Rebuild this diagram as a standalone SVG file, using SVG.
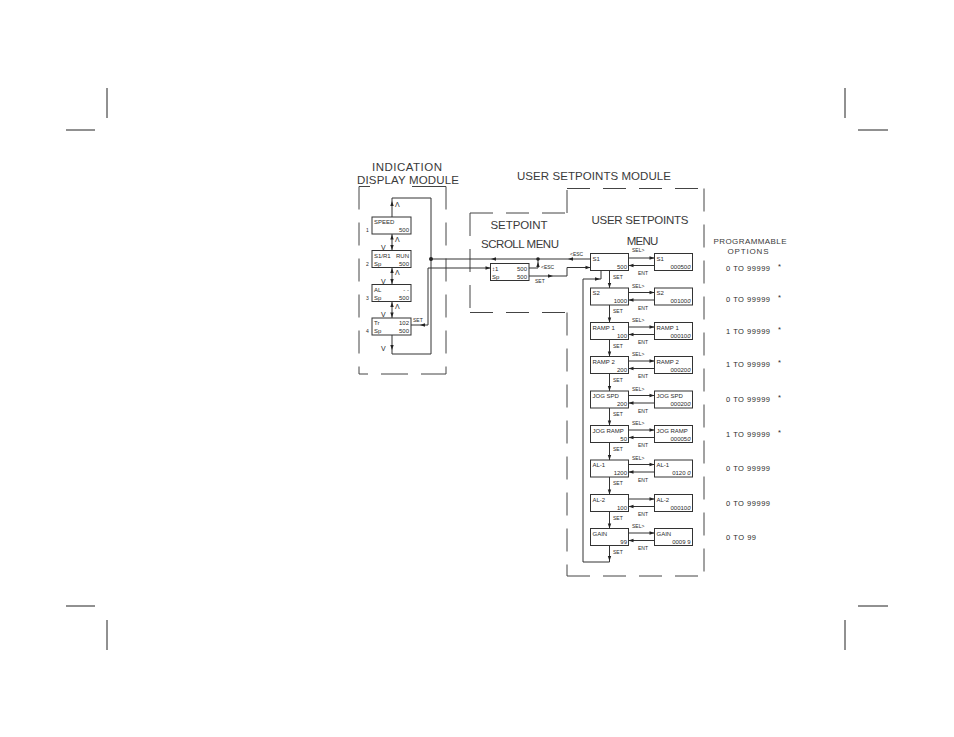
<svg xmlns="http://www.w3.org/2000/svg" width="954" height="737" viewBox="0 0 954 737">
<style>
.t{font-family:"Liberation Sans",Arial,sans-serif;fill:#2a2a2a}
.ttl{font-size:11.5px;fill:#3a3a3a}
.sm{font-size:6px}
.xs{font-size:5px}
.op{font-size:7.5px}
.ln{stroke:#333;stroke-width:1;fill:none}
.box{fill:#fff;stroke:#333;stroke-width:1}
.dash{stroke:#444;stroke-width:1;fill:none;stroke-dasharray:23 13}
.solid{stroke:#444;stroke-width:1;fill:none}
.crop{stroke:#222;stroke-width:1}
</style>
<defs>
<path id="ah" d="M0,0 L-5,-1.7 L-5,1.7 Z" fill="#222"/>
</defs>
<rect width="954" height="737" fill="#fff"/>

<g id="crop-marks">
<line class="crop" x1="107" y1="88" x2="107" y2="118"/>
<line class="crop" x1="66" y1="130" x2="95" y2="130"/>
<line class="crop" x1="845" y1="88" x2="845" y2="118"/>
<line class="crop" x1="858" y1="130" x2="888" y2="130"/>
<line class="crop" x1="66" y1="606" x2="95" y2="606"/>
<line class="crop" x1="107" y1="620" x2="107" y2="650"/>
<line class="crop" x1="858" y1="606" x2="888" y2="606"/>
<line class="crop" x1="845" y1="620" x2="845" y2="650"/>
</g>

<g id="module-outlines">
<path class="solid" d="M359,186.5 H370 M412,186.5 H446 M359,374 H368 M381,374 H408 M421,374 H446"/>
<path class="dash" d="M359,186.5 V374 M446,186.5 V374"/>
<path class="dash" d="M470,213 V312.5 M470,213 H567 M567,213 V188.5 M567,188.5 H704 M704,188.5 V576 M567,576 H704 M567,312.5 V576 M470,312.5 H567"/>
</g>

<g id="titles">
<text class="t ttl" x="407" y="171" text-anchor="middle" textLength="70" lengthAdjust="spacing">INDICATION</text>
<text class="t ttl" x="408" y="184" text-anchor="middle" textLength="102" lengthAdjust="spacing">DISPLAY MODULE</text>
<text class="t ttl" x="594" y="179.5" text-anchor="middle" textLength="154" lengthAdjust="spacing">USER SETPOINTS MODULE</text>
<text class="t ttl" x="519" y="228.5" text-anchor="middle" textLength="57" lengthAdjust="spacing">SETPOINT</text>
<text class="t ttl" x="520" y="247.5" text-anchor="middle" textLength="78" lengthAdjust="spacing">SCROLL MENU</text>
<text class="t ttl" x="640" y="224" text-anchor="middle" textLength="97" lengthAdjust="spacing">USER SETPOINTS</text>
<text class="t ttl" x="642.5" y="245" text-anchor="middle" textLength="31.5" lengthAdjust="spacing">MENU</text>
<text class="t" style="font-size:8px;fill:#3a3a3a" x="750" y="243.5" text-anchor="middle" textLength="73" lengthAdjust="spacing">PROGRAMMABLE</text>
<text class="t" style="font-size:8px;fill:#3a3a3a" x="748" y="253.5" text-anchor="middle" textLength="41" lengthAdjust="spacing">OPTIONS</text>
</g>

<g id="connectors">
<path class="ln" d="M392,217 V198 H431 V354 H392 V335"/>
<use href="#ah" transform="translate(392,201) rotate(-90)"/>
<use href="#ah" transform="translate(392,350) rotate(90)"/>
<path class="ln" d="M392,234 V250.5 M392,267.5 V284.5 M392,301.5 V318"/>
<use href="#ah" transform="translate(392,234.5) rotate(-90)"/>
<use href="#ah" transform="translate(392,250) rotate(90)"/>
<use href="#ah" transform="translate(392,268) rotate(-90)"/>
<use href="#ah" transform="translate(392,284) rotate(90)"/>
<use href="#ah" transform="translate(392,302) rotate(-90)"/>
<use href="#ah" transform="translate(392,317.5) rotate(90)"/>
<path class="ln" d="M411,325 H428 V268 H490.5"/>
<use href="#ah" transform="translate(420,325) rotate(180)"/>
<use href="#ah" transform="translate(490.5,268)"/>
<path class="ln" d="M431,259 H590.5"/>
<circle cx="431" cy="259" r="2" fill="#222"/>
<use href="#ah" transform="translate(491,259) rotate(180)"/>
<use href="#ah" transform="translate(568,259) rotate(180)"/>
<path class="ln" d="M529,268 H538 V259"/>
<circle cx="538" cy="259" r="1.8" fill="#222"/>
<use href="#ah" transform="translate(538,262) rotate(-90)"/>
<path class="ln" d="M529,276 H567 V267.5 H590.5"/>
<use href="#ah" transform="translate(553,276)"/>
<use href="#ah" transform="translate(590.5,267.5)"/>
<path class="ln" d="M628.5,258 H654.5 M654.5,265.5 H628.5 M628.5,292.5 H654.5 M654.5,300 H628.5 M628.5,327 H654.5 M654.5,334.5 H628.5 M628.5,361 H654.5 M654.5,368.5 H628.5 M628.5,395.5 H654.5 M654.5,403 H628.5 M628.5,430 H654.5 M654.5,437.5 H628.5 M628.5,464.5 H654.5 M654.5,472 H628.5 M628.5,499 H654.5 M654.5,506.5 H628.5 M628.5,533 H654.5 M654.5,540.5 H628.5"/>
<use href="#ah" transform="translate(654.5,258)"/>
<use href="#ah" transform="translate(628.5,265.5) rotate(180)"/>
<use href="#ah" transform="translate(654.5,292.5)"/>
<use href="#ah" transform="translate(628.5,300) rotate(180)"/>
<use href="#ah" transform="translate(654.5,327)"/>
<use href="#ah" transform="translate(628.5,334.5) rotate(180)"/>
<use href="#ah" transform="translate(654.5,361)"/>
<use href="#ah" transform="translate(628.5,368.5) rotate(180)"/>
<use href="#ah" transform="translate(654.5,395.5)"/>
<use href="#ah" transform="translate(628.5,403) rotate(180)"/>
<use href="#ah" transform="translate(654.5,430)"/>
<use href="#ah" transform="translate(628.5,437.5) rotate(180)"/>
<use href="#ah" transform="translate(654.5,464.5)"/>
<use href="#ah" transform="translate(628.5,472) rotate(180)"/>
<use href="#ah" transform="translate(654.5,499)"/>
<use href="#ah" transform="translate(628.5,506.5) rotate(180)"/>
<use href="#ah" transform="translate(654.5,533)"/>
<use href="#ah" transform="translate(628.5,540.5) rotate(180)"/>
<path class="ln" d="M609.5,270.5 V288 M609.5,305 V322.5 M609.5,339.5 V356.5 M609.5,373.5 V391 M609.5,408 V425.5 M609.5,442.5 V460 M609.5,477 V494.5 M609.5,511.5 V528.5"/>
<use href="#ah" transform="translate(609.5,288) rotate(90)"/>
<use href="#ah" transform="translate(609.5,322.5) rotate(90)"/>
<use href="#ah" transform="translate(609.5,356.5) rotate(90)"/>
<use href="#ah" transform="translate(609.5,391) rotate(90)"/>
<use href="#ah" transform="translate(609.5,425.5) rotate(90)"/>
<use href="#ah" transform="translate(609.5,460) rotate(90)"/>
<use href="#ah" transform="translate(609.5,494.5) rotate(90)"/>
<use href="#ah" transform="translate(609.5,528.5) rotate(90)"/>
<path class="ln" d="M609.5,545.5 V562 H583 V279 H601 V270.5"/>
<use href="#ah" transform="translate(609.5,561) rotate(90)"/>
<use href="#ah" transform="translate(600,279)"/>
</g>

<g id="connector-labels" class="t">
<text style="font-size:7px" x="395" y="207">Λ</text>
<text style="font-size:7px" x="395" y="241.5">Λ</text>
<text style="font-size:7px" x="395" y="275">Λ</text>
<text style="font-size:7px" x="395" y="309">Λ</text>
<text style="font-size:7px" x="381" y="249.5">V</text>
<text style="font-size:7px" x="381" y="283.5">V</text>
<text style="font-size:7px" x="381" y="317">V</text>
<text style="font-size:7px" x="381" y="351">V</text>
<text class="xs" x="413" y="322">SET</text>
<text class="xs" x="541" y="268.5">&lt;ESC</text>
<text class="xs" x="570" y="255.5">&lt;ESC</text>
<text class="xs" x="535" y="283">SET</text>
<text class="xs" x="632" y="252">SEL&gt;</text>
<text class="xs" x="632" y="287.5">SEL&gt;</text>
<text class="xs" x="632" y="322">SEL&gt;</text>
<text class="xs" x="632" y="356">SEL&gt;</text>
<text class="xs" x="632" y="390.5">SEL&gt;</text>
<text class="xs" x="632" y="425">SEL&gt;</text>
<text class="xs" x="632" y="459.5">SEL&gt;</text>
<text class="xs" x="632" y="528">SEL&gt;</text>
<text class="xs" x="638" y="275">ENT</text>
<text class="xs" x="638" y="309.5">ENT</text>
<text class="xs" x="638" y="344">ENT</text>
<text class="xs" x="638" y="378">ENT</text>
<text class="xs" x="638" y="412.5">ENT</text>
<text class="xs" x="638" y="447">ENT</text>
<text class="xs" x="638" y="481.5">ENT</text>
<text class="xs" x="638" y="516">ENT</text>
<text class="xs" x="638" y="550">ENT</text>
<text class="xs" x="613" y="278.5">SET</text>
<text class="xs" x="613" y="313">SET</text>
<text class="xs" x="613" y="347.5">SET</text>
<text class="xs" x="613" y="381.5">SET</text>
<text class="xs" x="613" y="416">SET</text>
<text class="xs" x="613" y="450.5">SET</text>
<text class="xs" x="613" y="485">SET</text>
<text class="xs" x="613" y="519.5">SET</text>
<text class="xs" x="613" y="553.5">SET</text>
</g>

<g id="display-1" class="t sm">
<rect class="box" x="372" y="217" width="39" height="17"/>
<text x="374" y="224">SPEED</text>
<text x="409" y="232" text-anchor="end">500</text>
<text class="xs" x="366" y="232">1</text>
</g>
<g id="display-2" class="t sm">
<rect class="box" x="372" y="250.5" width="39" height="17"/>
<text x="374" y="257.5">S1/R1</text>
<text x="409" y="257.5" text-anchor="end">RUN</text>
<text x="374" y="265.5">Sp</text>
<text x="409" y="265.5" text-anchor="end">500</text>
<text class="xs" x="366" y="265.5">2</text>
</g>
<g id="display-3" class="t sm">
<rect class="box" x="372" y="284.5" width="39" height="17"/>
<text x="374" y="291.5">AL</text>
<text x="409" y="291.5" text-anchor="end">- -</text>
<text x="374" y="299.5">Sp</text>
<text x="409" y="299.5" text-anchor="end">500</text>
<text class="xs" x="366" y="299.5">3</text>
</g>
<g id="display-4" class="t sm">
<rect class="box" x="372" y="318" width="39" height="17"/>
<text x="374" y="325">Tr</text>
<text x="409" y="325" text-anchor="end">102</text>
<text x="374" y="333">Sp</text>
<text x="409" y="333" text-anchor="end">500</text>
<text class="xs" x="366" y="333">4</text>
</g>

<g id="scroll-box" class="t sm">
<rect class="box" x="490.5" y="263.5" width="38.5" height="17"/>
<text x="492" y="270.5">↕1</text>
<text x="527" y="270.5" text-anchor="end">500</text>
<text x="492" y="278.5">Sp</text>
<text x="527" y="278.5" text-anchor="end">500</text>
</g>

<g id="sp-s1" class="t sm"><rect class="box" x="590.5" y="253.5" width="38" height="17"/><text x="592.5" y="260.5">S1</text><text x="627" y="268.5" text-anchor="end">500</text></g>
<g id="sp-s1-edit" class="t sm"><rect class="box" x="654.5" y="253.5" width="38" height="17"/><text x="656.5" y="260.5">S1</text><text x="690.5" y="268.5" text-anchor="end">00050<tspan font-style="italic">0</tspan></text></g>
<g id="sp-s2" class="t sm"><rect class="box" x="590.5" y="288" width="38" height="17"/><text x="592.5" y="295">S2</text><text x="627" y="303" text-anchor="end">1000</text></g>
<g id="sp-s2-edit" class="t sm"><rect class="box" x="654.5" y="288" width="38" height="17"/><text x="656.5" y="295">S2</text><text x="690.5" y="303" text-anchor="end">00100<tspan font-style="italic">0</tspan></text></g>
<g id="sp-ramp1" class="t sm"><rect class="box" x="590.5" y="322.5" width="38" height="17"/><text x="592.5" y="329.5">RAMP 1</text><text x="627" y="337.5" text-anchor="end">100</text></g>
<g id="sp-ramp1-edit" class="t sm"><rect class="box" x="654.5" y="322.5" width="38" height="17"/><text x="656.5" y="329.5">RAMP 1</text><text x="690.5" y="337.5" text-anchor="end">00010<tspan font-style="italic">0</tspan></text></g>
<g id="sp-ramp2" class="t sm"><rect class="box" x="590.5" y="356.5" width="38" height="17"/><text x="592.5" y="363.5">RAMP 2</text><text x="627" y="371.5" text-anchor="end">200</text></g>
<g id="sp-ramp2-edit" class="t sm"><rect class="box" x="654.5" y="356.5" width="38" height="17"/><text x="656.5" y="363.5">RAMP 2</text><text x="690.5" y="371.5" text-anchor="end">00020<tspan font-style="italic">0</tspan></text></g>
<g id="sp-jogspd" class="t sm"><rect class="box" x="590.5" y="391" width="38" height="17"/><text x="592.5" y="398">JOG SPD</text><text x="627" y="406" text-anchor="end">200</text></g>
<g id="sp-jogspd-edit" class="t sm"><rect class="box" x="654.5" y="391" width="38" height="17"/><text x="656.5" y="398">JOG SPD</text><text x="690.5" y="406" text-anchor="end">00020<tspan font-style="italic">0</tspan></text></g>
<g id="sp-jogramp" class="t sm"><rect class="box" x="590.5" y="425.5" width="38" height="17"/><text x="592.5" y="432.5">JOG RAMP</text><text x="627" y="440.5" text-anchor="end">50</text></g>
<g id="sp-jogramp-edit" class="t sm"><rect class="box" x="654.5" y="425.5" width="38" height="17"/><text x="656.5" y="432.5">JOG RAMP</text><text x="690.5" y="440.5" text-anchor="end">00005<tspan font-style="italic">0</tspan></text></g>
<g id="sp-al1" class="t sm"><rect class="box" x="590.5" y="460" width="38" height="17"/><text x="592.5" y="467">AL-1</text><text x="627" y="475" text-anchor="end">1200</text></g>
<g id="sp-al1-edit" class="t sm"><rect class="box" x="654.5" y="460" width="38" height="17"/><text x="656.5" y="467">AL-1</text><text x="690.5" y="475" text-anchor="end">0120 <tspan font-style="italic">0</tspan></text></g>
<g id="sp-al2" class="t sm"><rect class="box" x="590.5" y="494.5" width="38" height="17"/><text x="592.5" y="501.5">AL-2</text><text x="627" y="509.5" text-anchor="end">100</text></g>
<g id="sp-al2-edit" class="t sm"><rect class="box" x="654.5" y="494.5" width="38" height="17"/><text x="656.5" y="501.5">AL-2</text><text x="690.5" y="509.5" text-anchor="end">00010<tspan font-style="italic">0</tspan></text></g>
<g id="sp-gain" class="t sm"><rect class="box" x="590.5" y="528.5" width="38" height="17"/><text x="592.5" y="535.5">GAIN</text><text x="627" y="543.5" text-anchor="end">99</text></g>
<g id="sp-gain-edit" class="t sm"><rect class="box" x="654.5" y="528.5" width="38" height="17"/><text x="656.5" y="535.5">GAIN</text><text x="690.5" y="543.5" text-anchor="end">0009 9</text></g>

<g id="options" class="t op">
<text x="726" y="271" textLength="44" lengthAdjust="spacing">0 TO 99999</text>
<text x="726" y="302" textLength="44" lengthAdjust="spacing">0 TO 99999</text>
<text x="726" y="334" textLength="44" lengthAdjust="spacing">1 TO 99999</text>
<text x="726" y="367" textLength="44" lengthAdjust="spacing">1 TO 99999</text>
<text x="726" y="402" textLength="44" lengthAdjust="spacing">0 TO 99999</text>
<text x="726" y="437" textLength="44" lengthAdjust="spacing">1 TO 99999</text>
<text x="726" y="471" textLength="44" lengthAdjust="spacing">0 TO 99999</text>
<text x="726" y="506" textLength="44" lengthAdjust="spacing">0 TO 99999</text>
<text x="726" y="540" textLength="30" lengthAdjust="spacing">0 TO 99</text>
<text x="778" y="269">*</text>
<text x="778" y="300">*</text>
<text x="778" y="332">*</text>
<text x="778" y="365">*</text>
<text x="778" y="400">*</text>
<text x="778" y="435">*</text>
</g>
</svg>
